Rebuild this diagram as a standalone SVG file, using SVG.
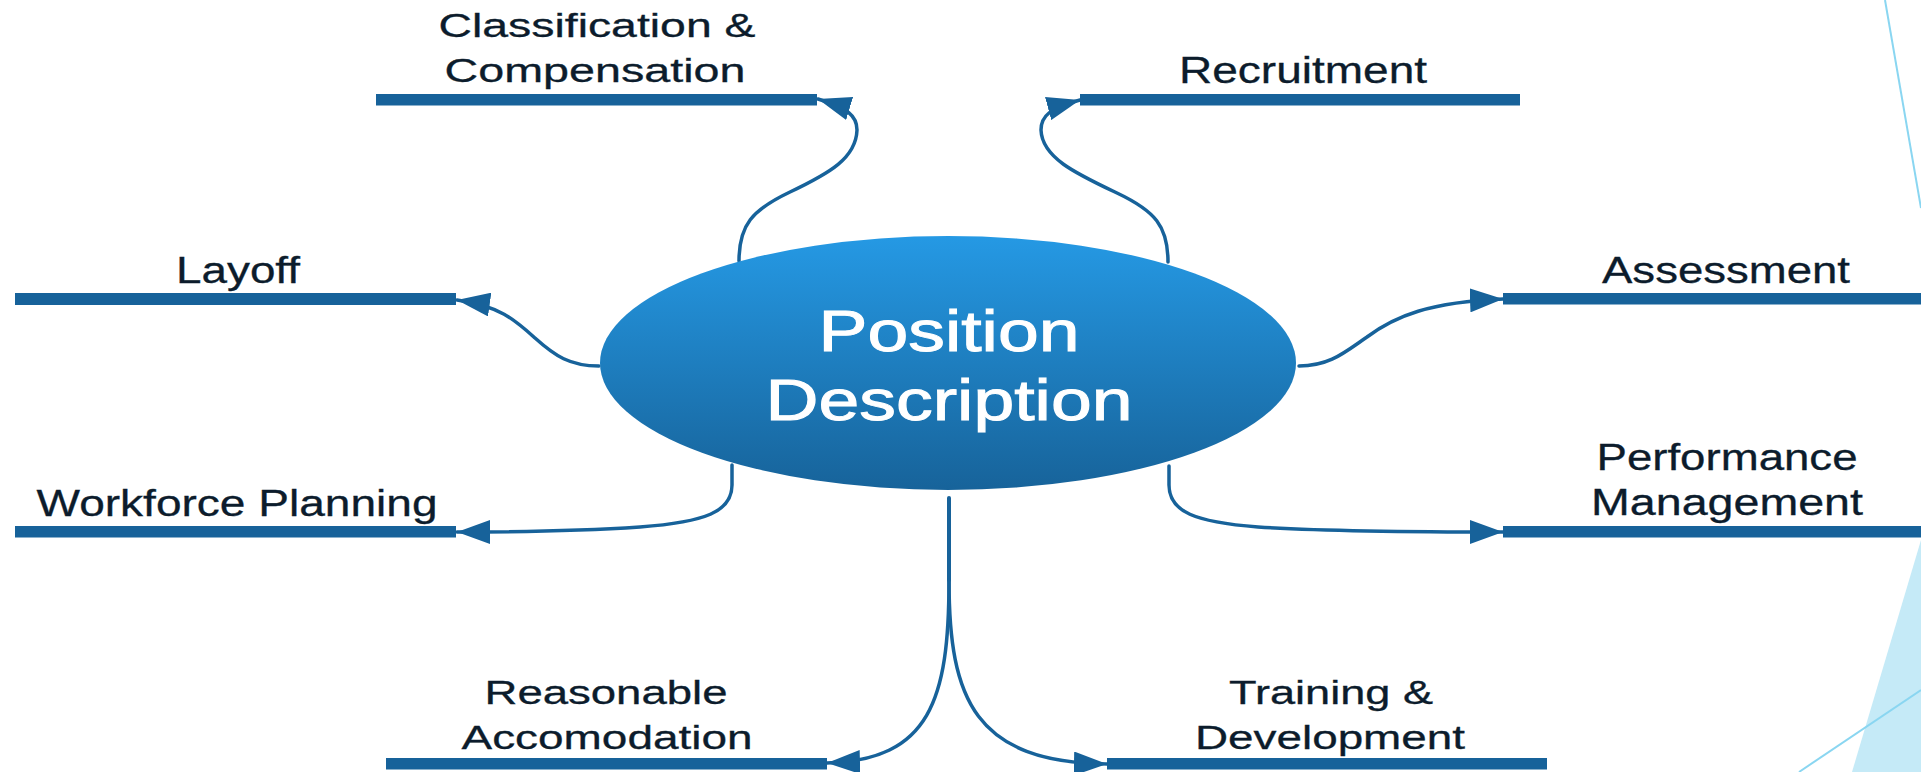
<svg xmlns="http://www.w3.org/2000/svg" width="1921" height="772" viewBox="0 0 1921 772">
  <style>
    .label { font-family: "Liberation Sans", Arial, sans-serif; font-size: 36px; fill: #0c1c2c; text-anchor: middle; stroke: #0c1c2c; stroke-width: 0.3; }
    .label.sm { font-size: 33px; }
    .title { font-family: "Liberation Sans", Arial, sans-serif; font-size: 58px; fill: #ffffff; text-anchor: middle; stroke: #ffffff; stroke-width: 1; }
    .bar { fill: #17629a; }
    .link { fill: none; stroke: #17629a; stroke-width: 3.5; stroke-linecap: round; marker-end: url(#arrow); }
    .stem { fill: none; stroke: #17629a; stroke-width: 4; stroke-linecap: round; }
    .deco-line { fill: none; stroke: #8ad6f1; stroke-width: 2; }
  </style>
  <defs>
    <linearGradient id="hubFill" x1="0" y1="0" x2="0" y2="1">
      <stop offset="0" stop-color="#2599e4"/>
      <stop offset="1" stop-color="#17639a"/>
    </linearGradient>
    <marker id="arrow" viewBox="0 0 33 24" refX="33" refY="12" markerWidth="33" markerHeight="24" markerUnits="userSpaceOnUse" orient="auto">
      <path d="M0,0 L33,12 L0,24 z" fill="#17629a"/>
    </marker>
  </defs>

  <rect width="1921" height="772" fill="#ffffff"/>

  <!-- corner decoration -->
  <g id="decoration">
    <polygon points="1921,540 1852,772 1921,772" fill="#c5eaf7"/>
    <line class="deco-line" x1="1885" y1="0" x2="1921" y2="208"/>
    <line class="deco-line" x1="1799" y1="772" x2="1921" y2="690"/>
  </g>

  <!-- connectors -->
  <g id="connectors">
    <path class="link" d="M739,261 C739,225 752,210 790,192 C830,173 856,158 857,130 C857,116 848,108 818,99"/>
    <path class="link" d="M1168,262 C1168,226 1155,211 1117,193 C1077,174 1042,158 1041,130 C1041,116 1050,108 1080,100"/>
    <path class="link" d="M599,366 C570,366 555,356 535,338 C515,320 500,306 457,300"/>
    <path class="link" d="M1299,366 C1330,366 1345,352 1367,337 C1395,316 1430,302 1503,299"/>
    <path class="link" d="M732,465 L732,485 C732,512 705,522 640,527 C580,531 520,532 457,532"/>
    <path class="link" d="M1169,466 L1169,485 C1169,512 1195,522 1258,527 C1320,531 1400,532 1503,532"/>
    <path class="stem" d="M949,498 L949,580"/>
    <path class="link" d="M949,580 C949,700 930,760 827,763"/>
    <path class="link" d="M949,580 C949,700 975,762 1107,764"/>
  </g>

  <!-- central hub -->
  <g id="position-description">
    <ellipse cx="948" cy="363" rx="348" ry="127" fill="url(#hubFill)"/>
    <text class="title" x="949" y="351" textLength="261" lengthAdjust="spacingAndGlyphs">Position</text>
    <text class="title" x="949" y="420" textLength="367" lengthAdjust="spacingAndGlyphs">Description</text>
  </g>

  <g id="classification-compensation">
    <rect class="bar" x="376" y="94" width="441" height="11.5"/>
    <text class="label sm" x="597" y="37" textLength="317" lengthAdjust="spacingAndGlyphs">Classification &amp;</text>
    <text class="label sm" x="595" y="82" textLength="301" lengthAdjust="spacingAndGlyphs">Compensation</text>
  </g>

  <g id="recruitment">
    <rect class="bar" x="1080" y="94" width="440" height="11.5"/>
    <text class="label" x="1303" y="83" textLength="248" lengthAdjust="spacingAndGlyphs">Recruitment</text>
  </g>

  <g id="layoff">
    <rect class="bar" x="15" y="293" width="441" height="12"/>
    <text class="label" x="238" y="283" textLength="124" lengthAdjust="spacingAndGlyphs">Layoff</text>
  </g>

  <g id="assessment">
    <rect class="bar" x="1503" y="293" width="418" height="11.5"/>
    <text class="label" x="1726" y="283" textLength="248" lengthAdjust="spacingAndGlyphs">Assessment</text>
  </g>

  <g id="workforce-planning">
    <rect class="bar" x="15" y="526" width="441" height="11.5"/>
    <text class="label" x="237" y="516" textLength="401" lengthAdjust="spacingAndGlyphs">Workforce Planning</text>
  </g>

  <g id="performance-management">
    <rect class="bar" x="1503" y="526" width="418" height="11.5"/>
    <text class="label" x="1727" y="470" textLength="261" lengthAdjust="spacingAndGlyphs">Performance</text>
    <text class="label" x="1727" y="515" textLength="272" lengthAdjust="spacingAndGlyphs">Management</text>
  </g>

  <g id="reasonable-accomodation">
    <rect class="bar" x="386" y="758" width="441" height="11.5"/>
    <text class="label sm" x="606" y="704" textLength="243" lengthAdjust="spacingAndGlyphs">Reasonable</text>
    <text class="label sm" x="607" y="749" textLength="291" lengthAdjust="spacingAndGlyphs">Accomodation</text>
  </g>

  <g id="training-development">
    <rect class="bar" x="1107" y="758" width="440" height="11.5"/>
    <text class="label sm" x="1331" y="704" textLength="204" lengthAdjust="spacingAndGlyphs">Training &amp;</text>
    <text class="label sm" x="1330" y="749" textLength="270" lengthAdjust="spacingAndGlyphs">Development</text>
  </g>
</svg>
